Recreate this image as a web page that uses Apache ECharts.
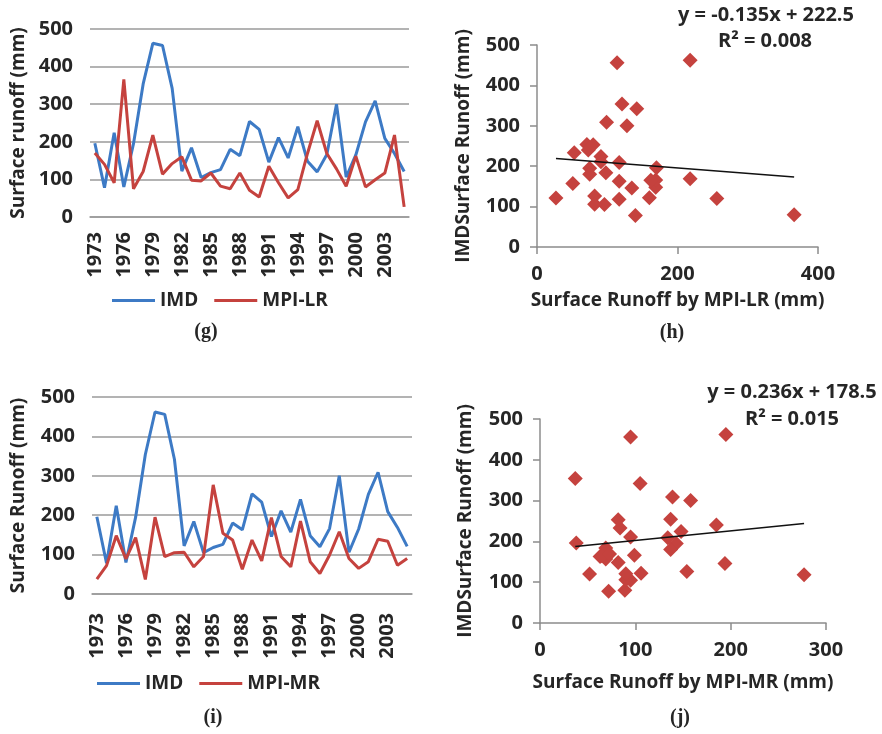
<!DOCTYPE html>
<html>
<head>
<meta charset="utf-8">
<script src="https://cdn.jsdelivr.net/npm/echarts@6/dist/echarts.min.js"></script>
<style>
html, body { margin: 0; padding: 0; background: #fff; }
#main { width: 882px; height: 734px; }
</style>
</head>
<body>
<div id="main"></div>
<script>
var myChart = echarts.init(document.getElementById('main'));

// years on the line charts
var years = ['1973', '1974', '1975', '1976', '1977', '1978', '1979', '1980', '1981', '1982', '1983',
    '1984', '1985', '1986', '1987', '1988', '1989', '1990', '1991', '1992', '1993', '1994',
    '1995', '1996', '1997', '1998', '1999', '2000', '2001', '2002', '2003', '2004', '2005'];

// surface runoff (mm)
var imd = [196, 78, 224, 80, 195, 354, 462, 456, 342, 122, 184, 105, 118, 126, 180, 163, 254,
    233, 146, 211, 157, 240, 148, 120, 166, 300, 106, 165, 253, 309, 209, 169, 121];
var mpiLR = [170, 140, 91, 366, 75, 121, 218, 114, 142, 160, 98, 96, 117, 82, 75, 117, 71,
    53, 135, 91, 51, 73, 169, 256, 169, 128, 82, 162, 80, 99, 117, 218, 27];
var mpiMR = [38, 72, 148, 89, 143, 37, 195, 95, 105, 106, 69, 95, 277, 154, 137, 63, 137,
    84, 194, 95, 69, 185, 82, 52, 99, 158, 90, 65, 82, 139, 134, 73, 90];

// trend lines written on the scatter plots
var trendLR = { slope: -0.135, intercept: 222.5 };
var trendMR = { slope: 0.236, intercept: 178.5 };
var eqLR = ['y = -0.135x + 222.5', 'R\u00b2 = 0.008'];
var eqMR = ['y = 0.236x + 178.5', 'R\u00b2 = 0.015'];
var captions = ['(g)', '(h)', '(i)', '(j)'];

var FONT = '"Open Sans", sans-serif';
var SERIF = '"Liberation Serif", serif';
var TXT = '#262626';
var BLUE = '#3d7ac5';
var RED = '#c5423e';
var GRID_GREY = '#9a9a9a';

function pairs(xs, ys) {
    return xs.map(function (x, i) { return [x, ys[i]]; });
}

function trendData(xs, t) {
    var lo = Math.min.apply(null, xs);
    var hi = Math.max.apply(null, xs);
    return [[lo, t.slope * lo + t.intercept], [hi, t.slope * hi + t.intercept]];
}

function catAxis(grid, margin) {
    return {
        type: 'category', gridIndex: grid, data: years, boundaryGap: true,
        axisLine: { lineStyle: { color: GRID_GREY, width: 1.5 } },
        axisTick: { show: false },
        axisLabel: { rotate: 90, interval: 2, margin: margin, fontFamily: FONT, fontSize: 20, fontWeight: 'bold', color: TXT }
    };
}

function runoffAxis(grid, name, gap) {
    return {
        type: 'value', gridIndex: grid, min: 0, max: 500, interval: 100,
        axisLine: { show: false }, axisTick: { show: false },
        splitLine: { lineStyle: { color: GRID_GREY, width: 1.5 } },
        axisLabel: { margin: 17, fontFamily: FONT, fontSize: 20, fontWeight: 'bold', color: TXT },
        name: name, nameLocation: 'middle', nameGap: gap,
        nameTextStyle: { fontFamily: FONT, fontSize: 19, fontWeight: 'bold', color: TXT }
    };
}

// scatter axes: plain grey line with outside ticks, no grid lines
function scatterAxis(grid, max, interval, name, gap) {
    return {
        type: 'value', gridIndex: grid, min: 0, max: max, interval: interval,
        axisLine: { show: true, lineStyle: { color: '#8c8c8c', width: 1.5 } },
        axisTick: { show: true, length: 7, lineStyle: { color: '#8c8c8c', width: 1.5 } },
        splitLine: { show: false },
        axisLabel: { margin: 17, fontFamily: FONT, fontSize: 20, fontWeight: 'bold', color: TXT },
        name: name, nameLocation: 'middle', nameGap: gap,
        nameTextStyle: { fontFamily: FONT, fontSize: 19, fontWeight: 'bold', color: TXT }
    };
}

function legendAt(left, top, names) {
    return {
        left: left, top: top, padding: 0, data: names, icon: 'rect', itemWidth: 43, itemHeight: 3, itemGap: 16,
        selectedMode: false,
        textStyle: { fontFamily: FONT, fontSize: 19, fontWeight: 'bold', color: TXT }
    };
}

function label(text, x, y, size, font) {
    return {
        type: 'text', x: x, y: y,
        style: { text: text, textAlign: 'center', textVerticalAlign: 'middle',
            font: 'bold ' + size + 'px ' + font, fill: TXT }
    };
}

var option = {
    animation: false,
    grid: [
        { left: 90, top: 29, width: 319, height: 188 },
        { left: 537, top: 45, width: 281, height: 202 },
        { left: 92, top: 397, width: 320, height: 197 },
        { left: 540, top: 419, width: 286, height: 204 }
    ],
    xAxis: [
        catAxis(0, 15),
        scatterAxis(1, 400, 200, 'Surface Runoff by MPI-LR (mm)', 44),
        catAxis(2, 19),
        scatterAxis(3, 300, 100, 'Surface Runoff by MPI-MR (mm)', 50)
    ],
    yAxis: [
        runoffAxis(0, 'Surface runoff (mm)', 62),
        scatterAxis(1, 500, 100, 'IMDSurface Runoff (mm)', 64),
        runoffAxis(2, 'Surface Runoff (mm)', 64),
        scatterAxis(3, 500, 100, 'IMDSurface Runoff (mm)', 65)
    ],
    legend: [
        legendAt(112, 291, ['IMD', 'MPI-LR']),
        legendAt(97, 674, ['IMD', 'MPI-MR'])
    ],
    series: [
        { name: 'IMD', type: 'line', xAxisIndex: 0, yAxisIndex: 0, data: imd, showSymbol: false,
          lineStyle: { color: BLUE, width: 3 }, itemStyle: { color: BLUE } },
        { name: 'MPI-LR', type: 'line', xAxisIndex: 0, yAxisIndex: 0, data: mpiLR, showSymbol: false,
          lineStyle: { color: RED, width: 3 }, itemStyle: { color: RED } },
        { name: 'scatterLR', type: 'scatter', xAxisIndex: 1, yAxisIndex: 1, data: pairs(mpiLR, imd),
          symbol: 'diamond', symbolSize: 15, itemStyle: { color: RED, opacity: 1 } },
        { name: 'trendLR', type: 'line', xAxisIndex: 1, yAxisIndex: 1, data: trendData(mpiLR, trendLR),
          showSymbol: false, lineStyle: { color: '#111', width: 1.5 } },
        { name: 'IMD', type: 'line', xAxisIndex: 2, yAxisIndex: 2, data: imd, showSymbol: false,
          lineStyle: { color: BLUE, width: 3 }, itemStyle: { color: BLUE } },
        { name: 'MPI-MR', type: 'line', xAxisIndex: 2, yAxisIndex: 2, data: mpiMR, showSymbol: false,
          lineStyle: { color: RED, width: 3 }, itemStyle: { color: RED } },
        { name: 'scatterMR', type: 'scatter', xAxisIndex: 3, yAxisIndex: 3, data: pairs(mpiMR, imd),
          symbol: 'diamond', symbolSize: 15, itemStyle: { color: RED, opacity: 1 } },
        { name: 'trendMR', type: 'line', xAxisIndex: 3, yAxisIndex: 3, data: trendData(mpiMR, trendMR),
          showSymbol: false, lineStyle: { color: '#111', width: 1.5 } }
    ],
    graphic: [
        label(eqLR[0], 766, 15, 20, FONT),
        label(eqLR[1], 765, 41, 20, FONT),
        label(eqMR[0], 792, 392, 20, FONT),
        label(eqMR[1], 792, 419, 20, FONT),
        label(captions[0], 206, 332, 20, SERIF),
        label(captions[1], 672, 333, 20, SERIF),
        label(captions[2], 213, 718, 20, SERIF),
        label(captions[3], 680, 718, 20, SERIF)
    ]
};

myChart.setOption(option);
</script>
</body>
</html>
